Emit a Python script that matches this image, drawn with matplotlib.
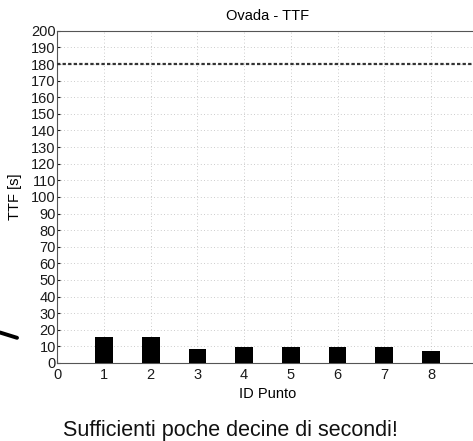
import matplotlib
matplotlib.use("Agg")
import matplotlib.pyplot as plt
from matplotlib.lines import Line2D

plt.rcParams['font.family'] = ['Liberation Sans', 'DejaVu Sans']

# TTF per measuring point
punti = [1, 2, 3, 4, 5, 6, 7, 8]
ttf = [15.8, 15.5, 8.6, 9.5, 9.5, 9.5, 9.5, 7.2]
soglia = 180
x_ticks = [0, 1, 2, 3, 4, 5, 6, 7, 8]
y_ticks = list(range(0, 201, 10))

fig = plt.figure(figsize=(4.73, 4.41), dpi=100)
ax = fig.add_axes([0.121, 0.177, 0.889, 0.753])

ax.bar(punti, ttf, width=0.38, color='black', zorder=3)
ax.axhline(soglia, color='#333333', linestyle=(0, (1.5, 1.0)), linewidth=1.6, zorder=3)

ax.set_xlim(0, 9)
ax.set_ylim(0, 200)
ax.set_xticks(x_ticks)
ax.set_yticks(y_ticks)
ax.tick_params(axis='both', labelsize=10.5, length=2, direction='in', colors='#1a1a1a')
ax.tick_params(axis='y', pad=1.0)
ax.tick_params(axis='x', pad=4.0)
ax.grid(True, color='#bbbbbb', linestyle=(0, (1, 3)), linewidth=0.6)
for s in ax.spines.values():
    s.set_color('#555555')
    s.set_linestyle((0, (1, 1)))
    s.set_linewidth(0.8)

ax.set_title('Ovada - TTF', fontsize=10.5, pad=8)
ax.set_xlabel('ID Punto', fontsize=10.5, labelpad=3)
ax.set_ylabel('TTF [s]', fontsize=10.5)
ax.yaxis.set_label_coords(-0.083, 0.5)

fig.text(0.133, 0.012, 'Sufficienti poche decine di secondi!', fontsize=15.5,
         color='#111111', va='baseline')

# pen stroke on the left margin
fig.add_artist(Line2D([0.0, 0.036], [0.246, 0.234], color='black', linewidth=2.8,
                      solid_capstyle='round', transform=fig.transFigure))

fig.savefig('out.png', dpi=100)
